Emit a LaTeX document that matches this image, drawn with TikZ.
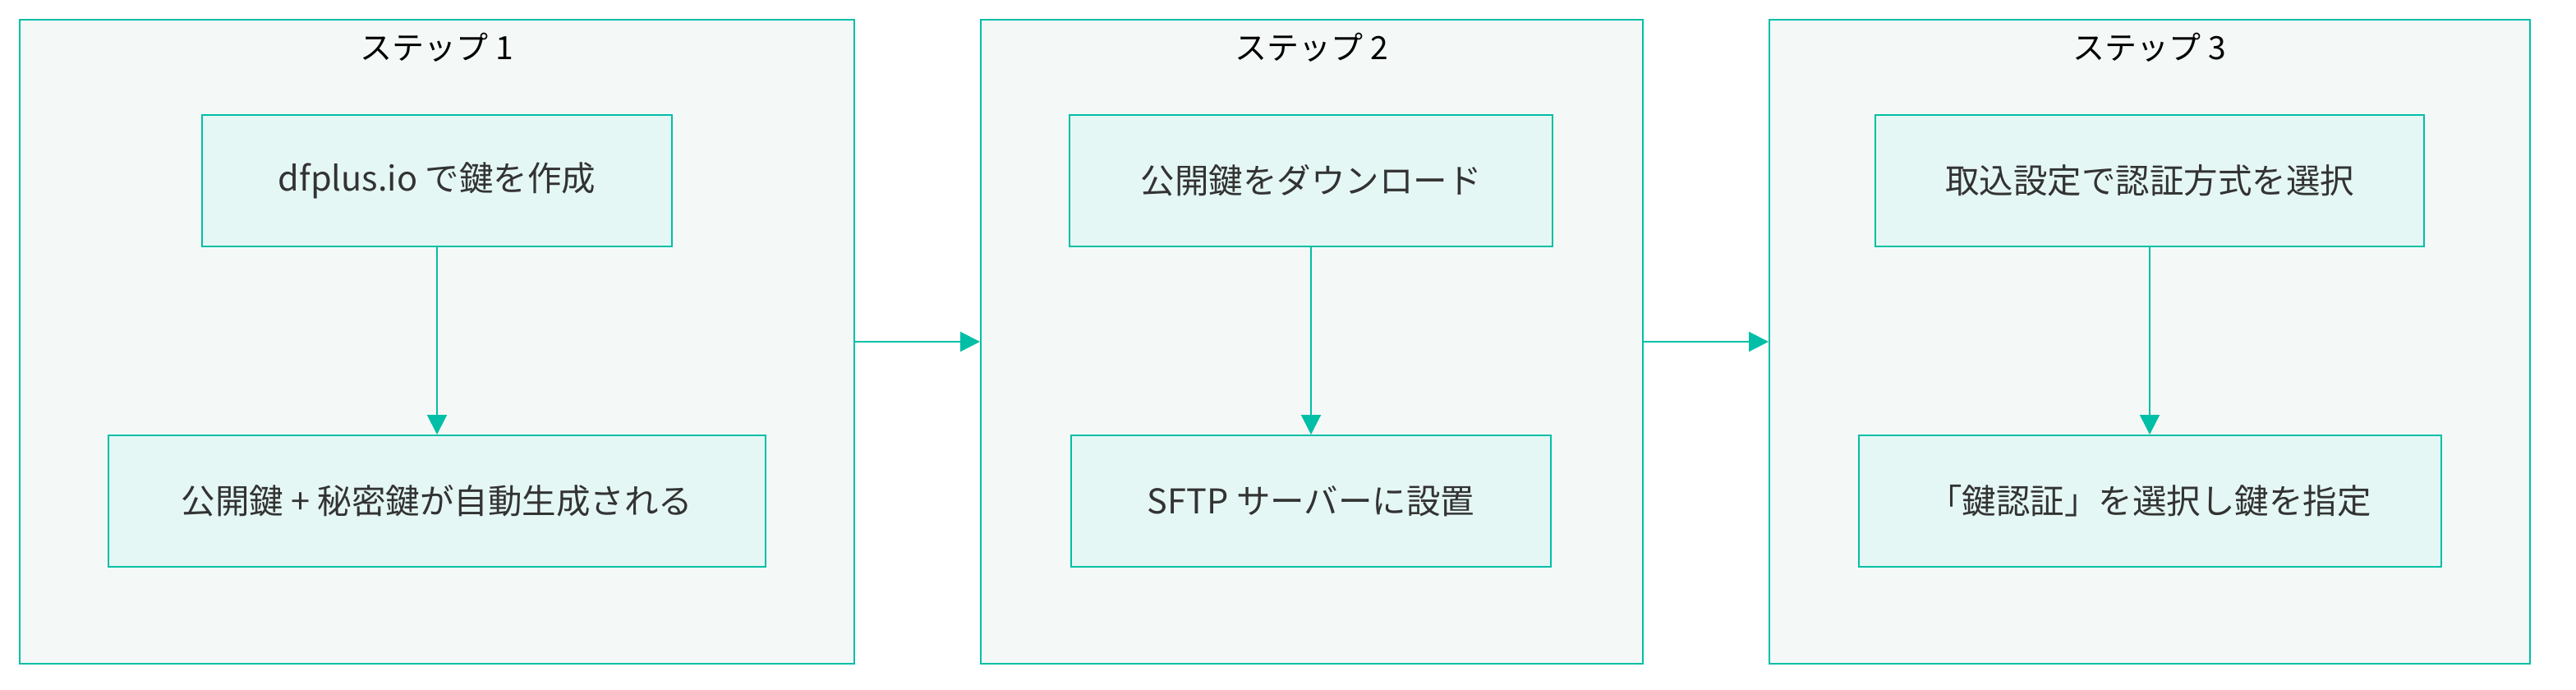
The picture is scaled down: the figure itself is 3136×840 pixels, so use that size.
\documentclass[tikz,border=0pt]{standalone}
\usepackage{fontspec}
\newfontfamily\jpfont{Noto Sans CJK JP}
\usetikzlibrary{arrows.meta}
\begin{document}
\begin{tikzpicture}[x=1pt, y=-1pt]
\definecolor{edge}{HTML}{00BFA6}
\definecolor{stepfill}{HTML}{F4F8F7}
\definecolor{boxfill}{HTML}{E5F7F4}
\definecolor{ink}{HTML}{333333}
\tikzset{
  stepframe/.style = {draw = edge, fill = stepfill, line width = 2pt, minimum height = 784pt, inner sep = 0pt},
  stepname/.style  = {font = \jpfont\fontsize{39}{46}\selectfont, text = black},
  task/.style      = {draw = edge, fill = boxfill, line width = 2pt, minimum height = 160pt, inner sep = 0pt,
                      font = \jpfont\fontsize{41.5}{50}\selectfont, text = ink},
  link/.style      = {draw = edge, line width = 2pt, -{Triangle[length = 24pt, width = 24pt]}}
}
\useasboundingbox (0, 0) rectangle (3136, 840);
\node[stepframe, minimum width = 1016pt] (s1) at (532, 416) {};
\node[stepframe, minimum width = 806pt] (s2) at (1597, 416) {};
\node[stepframe, minimum width = 926pt] (s3) at (2617, 416) {};
\node[stepname] (s1name) at (532, 58) {ステップ 1};
\node[stepname] (s2name) at (1597, 58) {ステップ 2};
\node[stepname] (s3name) at (2617, 58) {ステップ 3};
\node[task, minimum width = 572pt] (keygen) at (532, 220) {dfplus.io で鍵を作成};
\node[task, minimum width = 800pt] (keypair) at (532, 610) {公開鍵 + 秘密鍵が自動生成される};
\node[task, minimum width = 588pt] (download) at (1596, 220) {公開鍵をダウンロード};
\node[task, minimum width = 584pt] (install) at (1596, 610) {SFTP サーバーに設置};
\node[task, minimum width = 668pt] (authsel) at (2617, 220) {取込設定で認証方式を選択};
\node[task, minimum width = 709pt] (keysel) at (2617, 610) {「鍵認証」を選択し鍵を指定};
\draw[link] (keygen) -- (keypair);
\draw[link] (download) -- (install);
\draw[link] (authsel) -- (keysel);
\draw[link] (s1.east) -- (s2.west);
\draw[link] (s2.east) -- (s3.west);
\end{tikzpicture}
\end{document}
